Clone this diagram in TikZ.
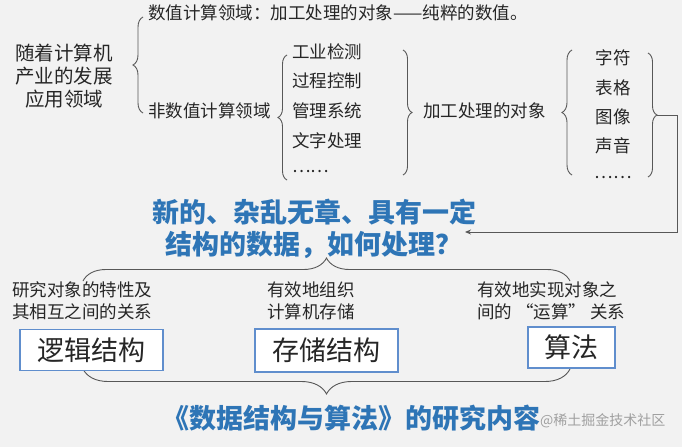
\documentclass[tikz,border=0pt]{standalone}
\usepackage{fontspec}
\setmainfont{Noto Sans CJK SC}
\usetikzlibrary{decorations.pathreplacing,arrows.meta}
\definecolor{bgc}{RGB}{242,242,242}
\definecolor{txtc}{RGB}{38,38,38}
\definecolor{blu}{RGB}{46,117,182}
\definecolor{boxb}{RGB}{96,142,205}
\definecolor{lnc}{RGB}{88,88,88}
\definecolor{wmc}{RGB}{160,160,160}
\begin{document}
\begin{tikzpicture}[x=1pt,y=-1pt,
  lbl/.style={text=txtc, inner sep=0pt, font=\fontsize{17.5}{22}\selectfont},
  bracestyle/.style={draw=lnc, line width=0.9pt, decorate, decoration={brace, amplitude=#1}},
  boxnode/.style={draw=boxb, fill=white, line width=1.3pt, text=txtc, inner sep=0pt, font=\fontsize{27}{30}\selectfont},
  bluetext/.style={text=blu, inner sep=0pt, font=\fontsize{27}{32}\selectfont\bfseries},
  link/.style={draw=lnc, line width=0.9pt}]
\path[use as bounding box, fill=bgc] (0,0) rectangle (682,447);

% left title
\node[lbl, font=\fontsize{19.5}{23}\selectfont, align=center] (app) at (64,76) {随着计算机\\产业的发展\\应用领域};

% first level
\node[lbl, anchor=west] (num) at (148,13) {数值计算领域：加工处理的对象——纯粹的数值。};
\node[lbl, anchor=west] (nonnum) at (148,111) {非数值计算领域};

% application items
\node[lbl, anchor=west] (i1) at (292,52) {工业检测};
\node[lbl, anchor=west] (i2) at (292,81) {过程控制};
\node[lbl, anchor=west] (i3) at (292,111) {管理系统};
\node[lbl, anchor=west] (i4) at (292,141) {文字处理};
\node[lbl, anchor=west] (i5) at (292,172) {……};

\node[lbl, anchor=west] (obj) at (423,111) {加工处理的对象};

% object items
\node[lbl] (o1) at (613,58) {字符};
\node[lbl] (o2) at (613,88) {表格};
\node[lbl] (o3) at (613,117) {图像};
\node[lbl] (o4) at (613,146) {声音};
\node[lbl] (o5) at (613,178) {……};

% braces (top part)
\draw[bracestyle=10] (143,113) -- (143,17);
\draw[bracestyle=9] (287,180) -- (287,55);
\draw[bracestyle=9] (403,50) -- (403,175);
\draw[bracestyle=10] (572,175) -- (572,50);
\draw[bracestyle=9] (648,53) -- (648,177);

% feedback arrow
\coordinate (b5tip) at (657,115);
\coordinate (c1) at (677,115);
\coordinate (c2) at (677,232);
\coordinate (aend) at (465,232);
\draw[link, -{Stealth[length=6pt,width=5pt]}] (b5tip) -- (c1) -- (c2) -- (aend);

% question
\node[bluetext, align=center] (q) at (314,229) {新的、杂乱无章、具有一定\\结构的数据，如何处理？};

% upper horizontal brace
\draw[bracestyle=23] (83,281) -- (570,281);

% descriptions
\node[lbl, align=left, anchor=west] (d1) at (12,301) {研究对象的特性及\\其相互之间的关系};
\node[lbl, align=left, anchor=west] (d2) at (267,301) {有效地组织\\计算机存储};
\node[lbl, align=left, anchor=west] (d3) at (477,301) {有效地实现对象之\\间的 “运算” 关系};

% lower horizontal brace
\draw[bracestyle=25] (570,369) -- (83,369);

% boxes
\node[boxnode, minimum width=143, minimum height=41] (lg) at (91.5,350) {逻辑结构};
\node[boxnode, minimum width=143, minimum height=43] (st) at (326.5,350.5) {存储结构};
\node[boxnode, minimum width=87, minimum height=41] (al) at (571.5,347.5) {算法};

% bottom title
\node[bluetext] (title) at (351,418) {《数据结构与算法》的研究内容};
\node[inner sep=0pt, text=wmc, font=\fontsize{14}{16}\selectfont, anchor=west] (wm) at (540,421) {@稀土掘金技术社区};
\end{tikzpicture}
\end{document}
